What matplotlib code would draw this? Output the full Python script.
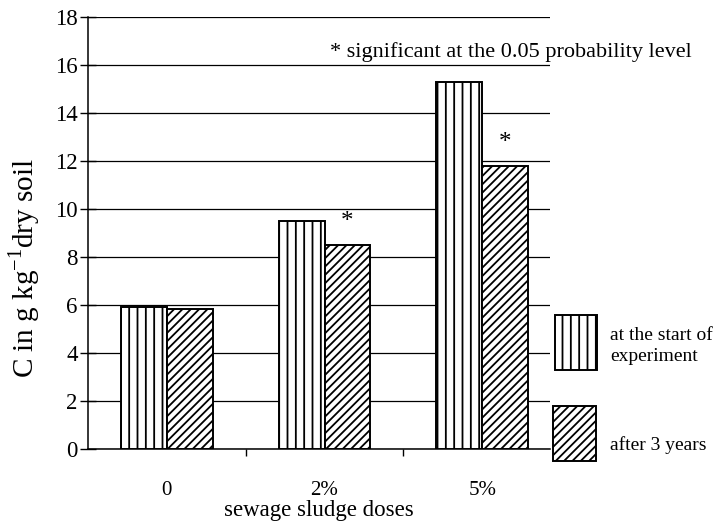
import numpy as np
import matplotlib
matplotlib.use("Agg")
import matplotlib.pyplot as plt
from matplotlib.patches import Rectangle

plt.rcParams['font.family'] = ['Liberation Serif', 'DejaVu Serif']
plt.rcParams['mathtext.fontset'] = 'custom'
plt.rcParams['mathtext.rm'] = 'Liberation Serif'
plt.rcParams['hatch.linewidth'] = 1.3

doses = ["0", "2%", "5%"]
start_values = [5.9, 9.5, 15.3]
after_values = [5.85, 8.5, 11.8]
significant = [False, True, True]
series_labels = ["at the start of\nexperiment", "after 3 years"]

x = np.arange(len(doses))
w = 0.29

fig = plt.figure(figsize=(7.21, 5.28), dpi=100)
ax = fig.add_axes([88 / 721, 79 / 528, 462 / 721, 432 / 528])

ax.bar(x - w / 2, start_values, w, facecolor='white', edgecolor='black',
       hatch='||', linewidth=1.4, zorder=3)
ax.bar(x + w / 2, after_values, w, facecolor='white', edgecolor='black',
       hatch='////', linewidth=1.4, zorder=3)

for i, sig in enumerate(significant):
    if sig:
        ax.text(x[i] + w / 2, after_values[i] + 0.5, "*", ha='center', va='bottom',
                fontsize=18)

ax.set_xlim(-0.5, 2.43)
ax.set_ylim(0, 18)
ax.set_yticks(np.arange(0, 19, 2))
ax.yaxis.grid(True, color='black', linewidth=0.9)
ax.set_axisbelow(True)
ax.tick_params(axis='y', direction='inout', length=11, width=1, labelsize=16.5, pad=2)

ax.set_xticks(x)
ax.set_xticklabels(doses)
ax.set_xticks([0.5, 1.5], minor=True)
ax.tick_params(axis='x', which='major', length=0, labelsize=15, pad=23)
ax.tick_params(axis='x', which='minor', length=5, width=1)

for s in ['top', 'right']:
    ax.spines[s].set_visible(False)
for s in ['left', 'bottom']:
    ax.spines[s].set_linewidth(1.1)

ax.set_xlabel("sewage sludge doses", fontsize=16.5, labelpad=0)
ax.set_ylabel(r"C in g kg$^{\mathregular{-1}}$dry soil", fontsize=21)
ax.yaxis.set_label_coords(-0.10, 0.42)

fig.text(330 / 721, 1 - 52 / 528, "* significant at the 0.05 probability level",
         fontsize=16, ha='left', va='center')

# legend drawn by hand to the right of the axes
W, H = 721, 528
fig.patches.append(Rectangle((555 / W, 1 - 370 / H), 42 / W, 55 / H, transform=fig.transFigure,
                             facecolor='white', edgecolor='black', hatch='||', linewidth=1.4))
fig.patches.append(Rectangle((553 / W, 1 - 461 / H), 43 / W, 55 / H, transform=fig.transFigure,
                             facecolor='white', edgecolor='black', hatch='////', linewidth=1.4))
fig.text(610 / W, 1 - 346 / H, series_labels[0], fontsize=14, ha='left', va='center',
         linespacing=1.3)
fig.text(610 / W, 1 - 445 / H, series_labels[1], fontsize=14, ha='left', va='center')

fig.savefig("out.png", dpi=100)
